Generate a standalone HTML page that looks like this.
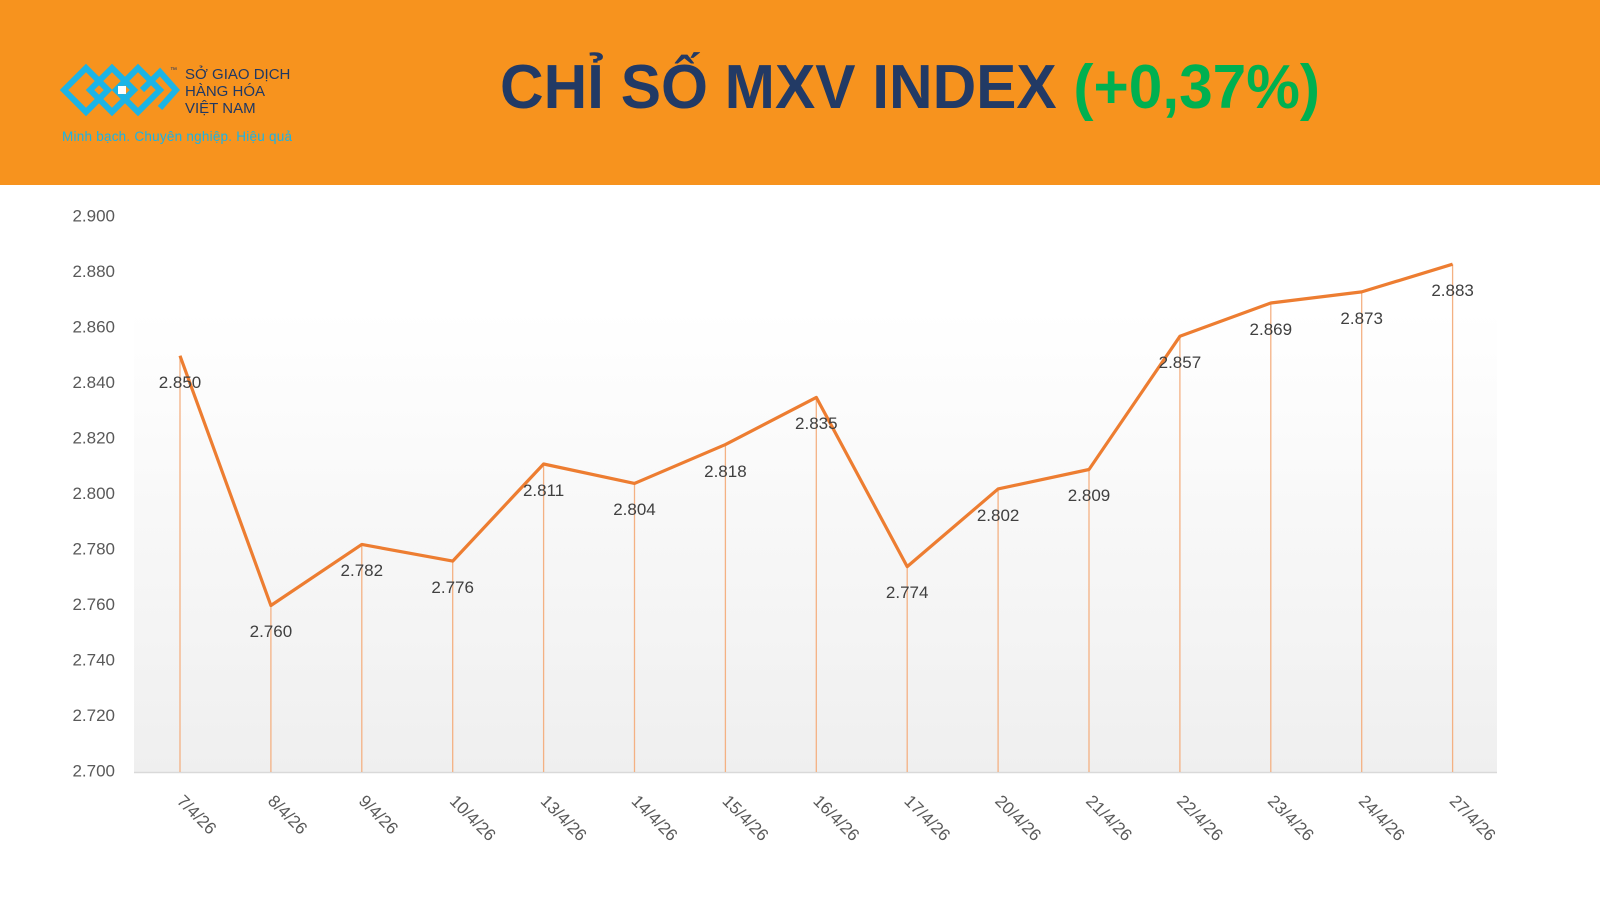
<!DOCTYPE html>
<html><head><meta charset="utf-8"><style>
body{margin:0;width:1600px;height:900px;background:#fff;overflow:hidden;font-family:"Liberation Sans",sans-serif}
</style></head><body>
<svg width="1600" height="900" viewBox="0 0 1600 900" xmlns="http://www.w3.org/2000/svg" font-family="Liberation Sans, DejaVu Sans, sans-serif">
<defs>
<linearGradient id="bg" x1="0" y1="0" x2="0" y2="1">
<stop offset="0" stop-color="#ffffff"/><stop offset="1" stop-color="#efefef"/>
</linearGradient>
</defs>
<rect x="0" y="0" width="1600" height="185" fill="#f7931e"/>
<g fill="none" stroke="#1cb4e6" stroke-width="6">
<path d="M64 90 L86 68 L108 90 L86 112 Z"/>
<path d="M90 90 L112 68 L134 90 L112 112 Z"/>
<path d="M116 90 L138 68 L160 90 L138 112 Z"/>
<path d="M142 90 L160 72 L176 90 L160 108"/>
</g>
<rect x="118" y="86" width="8" height="8" fill="#fff"/>
<text x="170" y="72" font-size="7" fill="#1f3864">™</text>
<g fill="#1f3864" font-size="15" font-family="Liberation Sans, sans-serif">
<text x="185" y="79">SỞ GIAO DỊCH</text>
<text x="185" y="96">HÀNG HÓA</text>
<text x="185" y="113">VIỆT NAM</text>
</g>
<text x="62" y="141" font-size="13.5" fill="#17b3e8" textLength="230">Minh bạch. Chuyên nghiệp. Hiệu quả</text>
<text x="500" y="108" font-size="62" font-weight="bold" fill="#223a65" textLength="820" lengthAdjust="spacingAndGlyphs">CHỈ SỐ MXV INDEX <tspan fill="#00b050">(+0,37%)</tspan></text>
<rect x="134" y="310" width="1363" height="462" fill="url(#bg)"/>
<line x1="134" y1="772.5" x2="1497" y2="772.5" stroke="#d9d9d9" stroke-width="1.5"/>
<g font-size="17" fill="#595959" text-anchor="end" dominant-baseline="middle">
<text x="115" y="772">2.700</text>
<text x="115" y="716.5">2.720</text>
<text x="115" y="661">2.740</text>
<text x="115" y="605.5">2.760</text>
<text x="115" y="550">2.780</text>
<text x="115" y="494.5">2.800</text>
<text x="115" y="439">2.820</text>
<text x="115" y="383.5">2.840</text>
<text x="115" y="328">2.860</text>
<text x="115" y="272.5">2.880</text>
<text x="115" y="217">2.900</text>
</g>
<g stroke="#f4b183" stroke-width="1.3">
<line x1="180" y1="355.75" x2="180" y2="772"/>
<line x1="270.9" y1="605.5" x2="270.9" y2="772"/>
<line x1="361.8" y1="544.45" x2="361.8" y2="772"/>
<line x1="452.7" y1="561.1" x2="452.7" y2="772"/>
<line x1="543.6" y1="464" x2="543.6" y2="772"/>
<line x1="634.5" y1="483.4" x2="634.5" y2="772"/>
<line x1="725.4" y1="444.55" x2="725.4" y2="772"/>
<line x1="816.3" y1="397.4" x2="816.3" y2="772"/>
<line x1="907.2" y1="566.65" x2="907.2" y2="772"/>
<line x1="998.1" y1="488.95" x2="998.1" y2="772"/>
<line x1="1089" y1="469.5" x2="1089" y2="772"/>
<line x1="1179.9" y1="336.3" x2="1179.9" y2="772"/>
<line x1="1270.8" y1="303" x2="1270.8" y2="772"/>
<line x1="1361.7" y1="291.9" x2="1361.7" y2="772"/>
<line x1="1452.6" y1="264.2" x2="1452.6" y2="772"/>
</g>
<polyline fill="none" stroke="#ed7d31" stroke-width="3.2" stroke-linejoin="round" points="180,355.75 270.9,605.5 361.8,544.45 452.7,561.1 543.6,464 634.5,483.4 725.4,444.55 816.3,397.4 907.2,566.65 998.1,488.95 1089,469.5 1179.9,336.3 1270.8,303 1361.7,291.9 1452.6,264.2"/>
<g font-size="17" fill="#404040" text-anchor="middle">
<text x="180" y="388">2.850</text>
<text x="270.9" y="637">2.760</text>
<text x="361.8" y="576">2.782</text>
<text x="452.7" y="593">2.776</text>
<text x="543.6" y="496">2.811</text>
<text x="634.5" y="515">2.804</text>
<text x="725.4" y="477">2.818</text>
<text x="816.3" y="429">2.835</text>
<text x="907.2" y="598">2.774</text>
<text x="998.1" y="521">2.802</text>
<text x="1089" y="501">2.809</text>
<text x="1179.9" y="368">2.857</text>
<text x="1270.8" y="335">2.869</text>
<text x="1361.7" y="324">2.873</text>
<text x="1452.6" y="296">2.883</text>
</g>
<g font-size="17" fill="#595959">
<text transform="translate(176,802) rotate(45)">7/4/26</text>
<text transform="translate(266.9,802) rotate(45)">8/4/26</text>
<text transform="translate(357.8,802) rotate(45)">9/4/26</text>
<text transform="translate(448.7,802) rotate(45)">10/4/26</text>
<text transform="translate(539.6,802) rotate(45)">13/4/26</text>
<text transform="translate(630.5,802) rotate(45)">14/4/26</text>
<text transform="translate(721.4,802) rotate(45)">15/4/26</text>
<text transform="translate(812.3,802) rotate(45)">16/4/26</text>
<text transform="translate(903.2,802) rotate(45)">17/4/26</text>
<text transform="translate(994.1,802) rotate(45)">20/4/26</text>
<text transform="translate(1085,802) rotate(45)">21/4/26</text>
<text transform="translate(1175.9,802) rotate(45)">22/4/26</text>
<text transform="translate(1266.8,802) rotate(45)">23/4/26</text>
<text transform="translate(1357.7,802) rotate(45)">24/4/26</text>
<text transform="translate(1448.6,802) rotate(45)">27/4/26</text>
</g>
</svg>
</body></html>
